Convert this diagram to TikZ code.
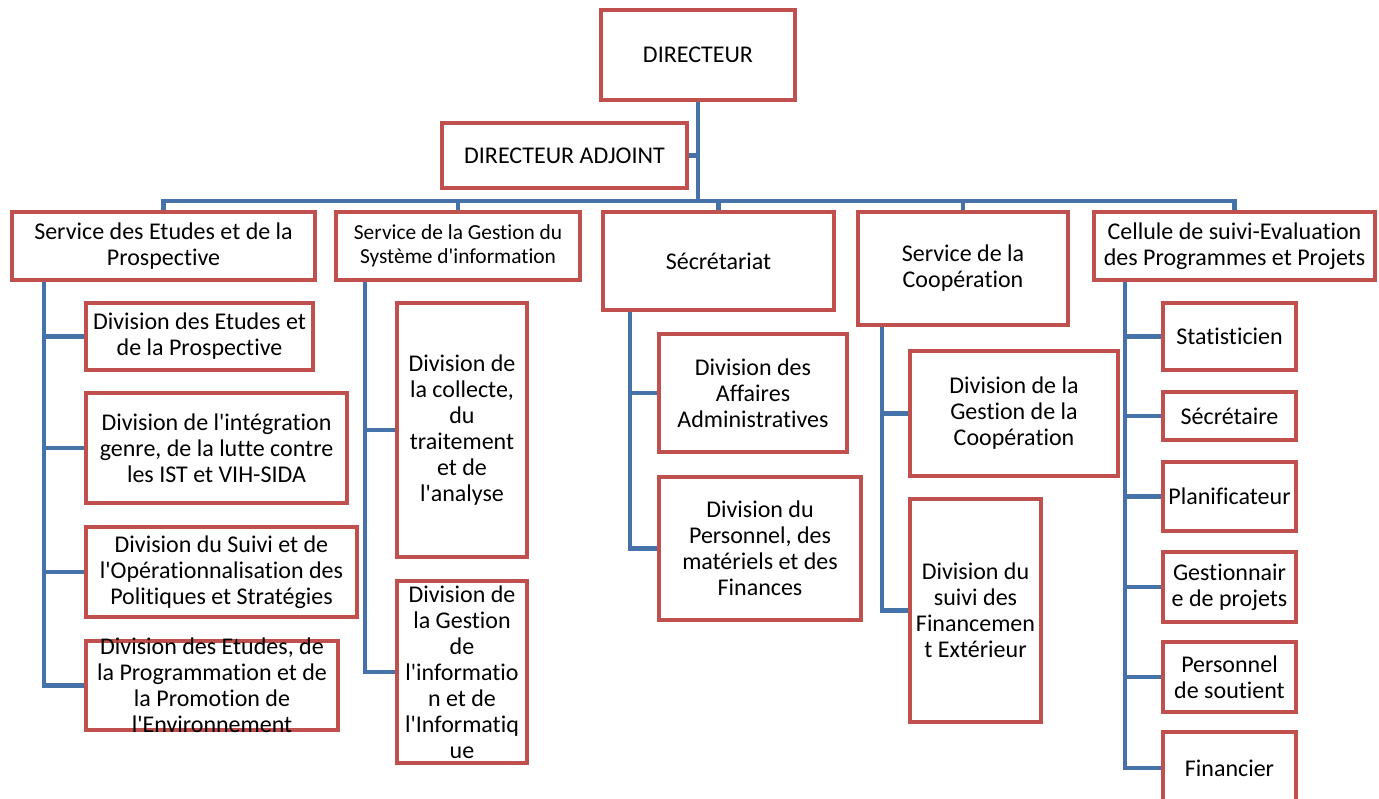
\documentclass[tikz,border=0pt]{standalone}
\usepackage{fontspec}
\setmainfont{Carlito}[Ligatures={TeXOff,NoCommon}]
\definecolor{boxred}{HTML}{C0504D}
\definecolor{linkblue}{HTML}{4672AA}

\begin{document}
\begin{tikzpicture}[x=0.5pt,y=-0.5pt,
    box/.style={draw=boxred,line width=2.4pt,fill=white,align=center,inner sep=0pt,
      font=\fontsize{12}{13}\selectfont},
    link/.style={draw=linkblue,line width=2.4pt}]
  \useasboundingbox (0,0) rectangle (1379,798);
  \node[box,minimum width=97pt,minimum height=45pt] (dir) at (698,55) {DIRECTEUR};
  \node[box,minimum width=122.5pt,minimum height=32.5pt] (adj) at (564.5,155.5) {DIRECTEUR ADJOINT};

  \node[box,minimum width=151.5pt,minimum height=34pt] (etu) at (163.5,246) {Service des Etudes et de la\\Prospective};
  \node[box,minimum width=122pt,minimum height=34pt,font=\fontsize{10.7}{12}\selectfont] (sig) at (458,246) {Service de la Gestion du\\Système d'information};
  \node[box,minimum width=115.5pt,minimum height=49pt] (sec) at (718.5,261) {Sécrétariat};
  \node[box,minimum width=105pt,minimum height=56.5pt] (coo) at (963,268.5) {Service de la\\Coopération};
  \node[box,minimum width=140.5pt,minimum height=34pt] (cel) at (1234.5,246) {Cellule de suivi-Evaluation\\des Programmes et Projets};

  \node[box,minimum width=113.5pt,minimum height=33.5pt] (etu-1) at (199.5,336.5) {Division des Etudes et\\de la Prospective};
  \node[box,minimum width=130.5pt,minimum height=55pt] (etu-2) at (216.5,448) {Division de l'intégration\\genre, de la lutte contre\\les IST et VIH-SIDA};
  \node[box,minimum width=135.5pt,minimum height=45pt] (etu-3) at (221.5,572) {Division du Suivi et de\\l'Opérationnalisation des\\Politiques et Stratégies};
  \node[box,minimum width=126pt,minimum height=44.5pt,inner ysep=-5pt] (etu-4) at (212,685.5) {Division des Etudes, de\\la Programmation et de\\la Promotion de\\l'Environnement};

  \node[box,minimum width=65pt,minimum height=127pt] (sig-1) at (462,430) {Division de\\la collecte,\\du\\traitement\\et de\\l'analyse};
  \node[box,minimum width=65pt,minimum height=91pt,inner ysep=-4pt] (sig-2) at (462,672) {Division de\\la Gestion\\de\\l'informatio\\n et de\\l'Informatiq\\ue};

  \node[box,minimum width=94pt,minimum height=59pt] (sec-1) at (753,393) {Division des\\Affaires\\Administratives};
  \node[box,minimum width=101pt,minimum height=71.5pt] (sec-2) at (760,548.5) {Division du\\Personnel, des\\matériels et des\\Finances};

  \node[box,minimum width=104pt,minimum height=62.5pt] (coo-1) at (1014,413.5) {Division de la\\Gestion de la\\Coopération};
  \node[box,minimum width=65.5pt,minimum height=111.5pt] (coo-2) at (975.5,610.5) {Division du\\suivi des\\Financemen\\t Extérieur};

  \node[box,minimum width=66.5pt,minimum height=33.5pt] (cel-1) at (1229.5,336.5) {Statisticien};
  \node[box,minimum width=66.5pt,minimum height=24pt] (cel-2) at (1229.5,416) {Sécrétaire};
  \node[box,minimum width=66.5pt,minimum height=34.5pt] (cel-3) at (1229.5,496.5) {Planificateur};
  \node[box,minimum width=66.5pt,minimum height=35pt] (cel-4) at (1229.5,587) {Gestionnair\\e de projets};
  \node[box,minimum width=66.5pt,minimum height=35pt] (cel-5) at (1229.5,677) {Personnel\\de soutient};
  \node[box,minimum width=66.5pt,minimum height=36pt] (cel-6) at (1229.5,768) {Financier};

  \coordinate (bus) at (0,201);
  \coordinate (sp1) at (44,0);
  \coordinate (sp2) at (365,0);
  \coordinate (sp3) at (630,0);
  \coordinate (sp4) at (882,0);
  \coordinate (sp5) at (1125,0);

  \draw[link] (dir.south) -- (dir.south |- bus);
  \draw[link] (adj.east) -- (adj.east -| dir.south);
  \draw[link] (etu.north) -- (etu.north |- bus) -- (cel.north |- bus) -- (cel.north);
  \foreach \n in {sig,sec,coo}
    \draw[link] (\n.north) -- (\n.north |- bus);

  \foreach \n in {1,...,4}
    \draw[link] (etu.south -| sp1) |- (etu-\n.west);
  \foreach \n in {1,2}
    \draw[link] (sig.south -| sp2) |- (sig-\n.west);
  \foreach \n in {1,2}
    \draw[link] (sec.south -| sp3) |- (sec-\n.west);
  \foreach \n in {1,2}
    \draw[link] (coo.south -| sp4) |- (coo-\n.west);
  \foreach \n in {1,...,6}
    \draw[link] (cel.south -| sp5) |- (cel-\n.west);
\end{tikzpicture}
\end{document}
